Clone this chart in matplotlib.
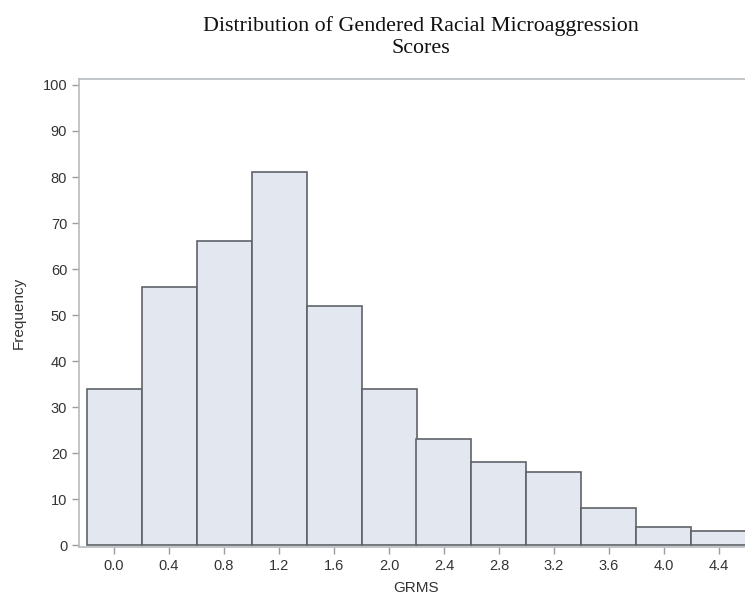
import matplotlib
matplotlib.use("Agg")
import matplotlib.pyplot as plt

# bin midpoints and counts
midpoints = [0.0, 0.4, 0.8, 1.2, 1.6, 2.0, 2.4, 2.8, 3.2, 3.6, 4.0, 4.4]
counts = [34, 56, 66, 81, 52, 34, 23, 18, 16, 8, 4, 3]
bin_width = 0.4
y_ticks = list(range(0, 101, 10))
x_ticks = midpoints

W, H = 745, 597
fig = plt.figure(figsize=(W / 100, H / 100), dpi=100)
left, right, top, bottom = 79, 754, 79, 547
ax = fig.add_axes([left / W, (H - bottom) / H, (right - left) / W, (bottom - top) / H])

ax.bar(midpoints, counts, width=bin_width, color="#e2e7f0",
       edgecolor="#5f6369", linewidth=1.2, zorder=2)

ax.set_xlim(-0.255, 4.655)
ax.set_ylim(-0.4, 101.3)
ax.set_xticks(x_ticks)
ax.set_xticklabels([f"{v:.1f}" for v in x_ticks])
ax.set_yticks(y_ticks)

for s in ax.spines.values():
    s.set_color("#b8bbbf")
    s.set_linewidth(1.2)
ax.tick_params(axis="both", colors="#9a9da1", length=5, width=1,
               labelcolor="#333333", labelsize=10.5)
for lab in ax.get_xticklabels() + ax.get_yticklabels():
    lab.set_family("Liberation Sans")

ax.set_xlabel("GRMS", family="Liberation Sans", fontsize=11, color="#333333", labelpad=6)
ax.set_ylabel("Frequency", family="Liberation Sans", fontsize=11, color="#333333", labelpad=12)

fig.text(421 / W, 1 - 16 / H, "Distribution of Gendered Racial Microaggression\nScores",
         ha="center", va="top", family="Liberation Serif", fontsize=15.8,
         color="#111111", linespacing=1.22)

fig.savefig("out.png", dpi=100)
